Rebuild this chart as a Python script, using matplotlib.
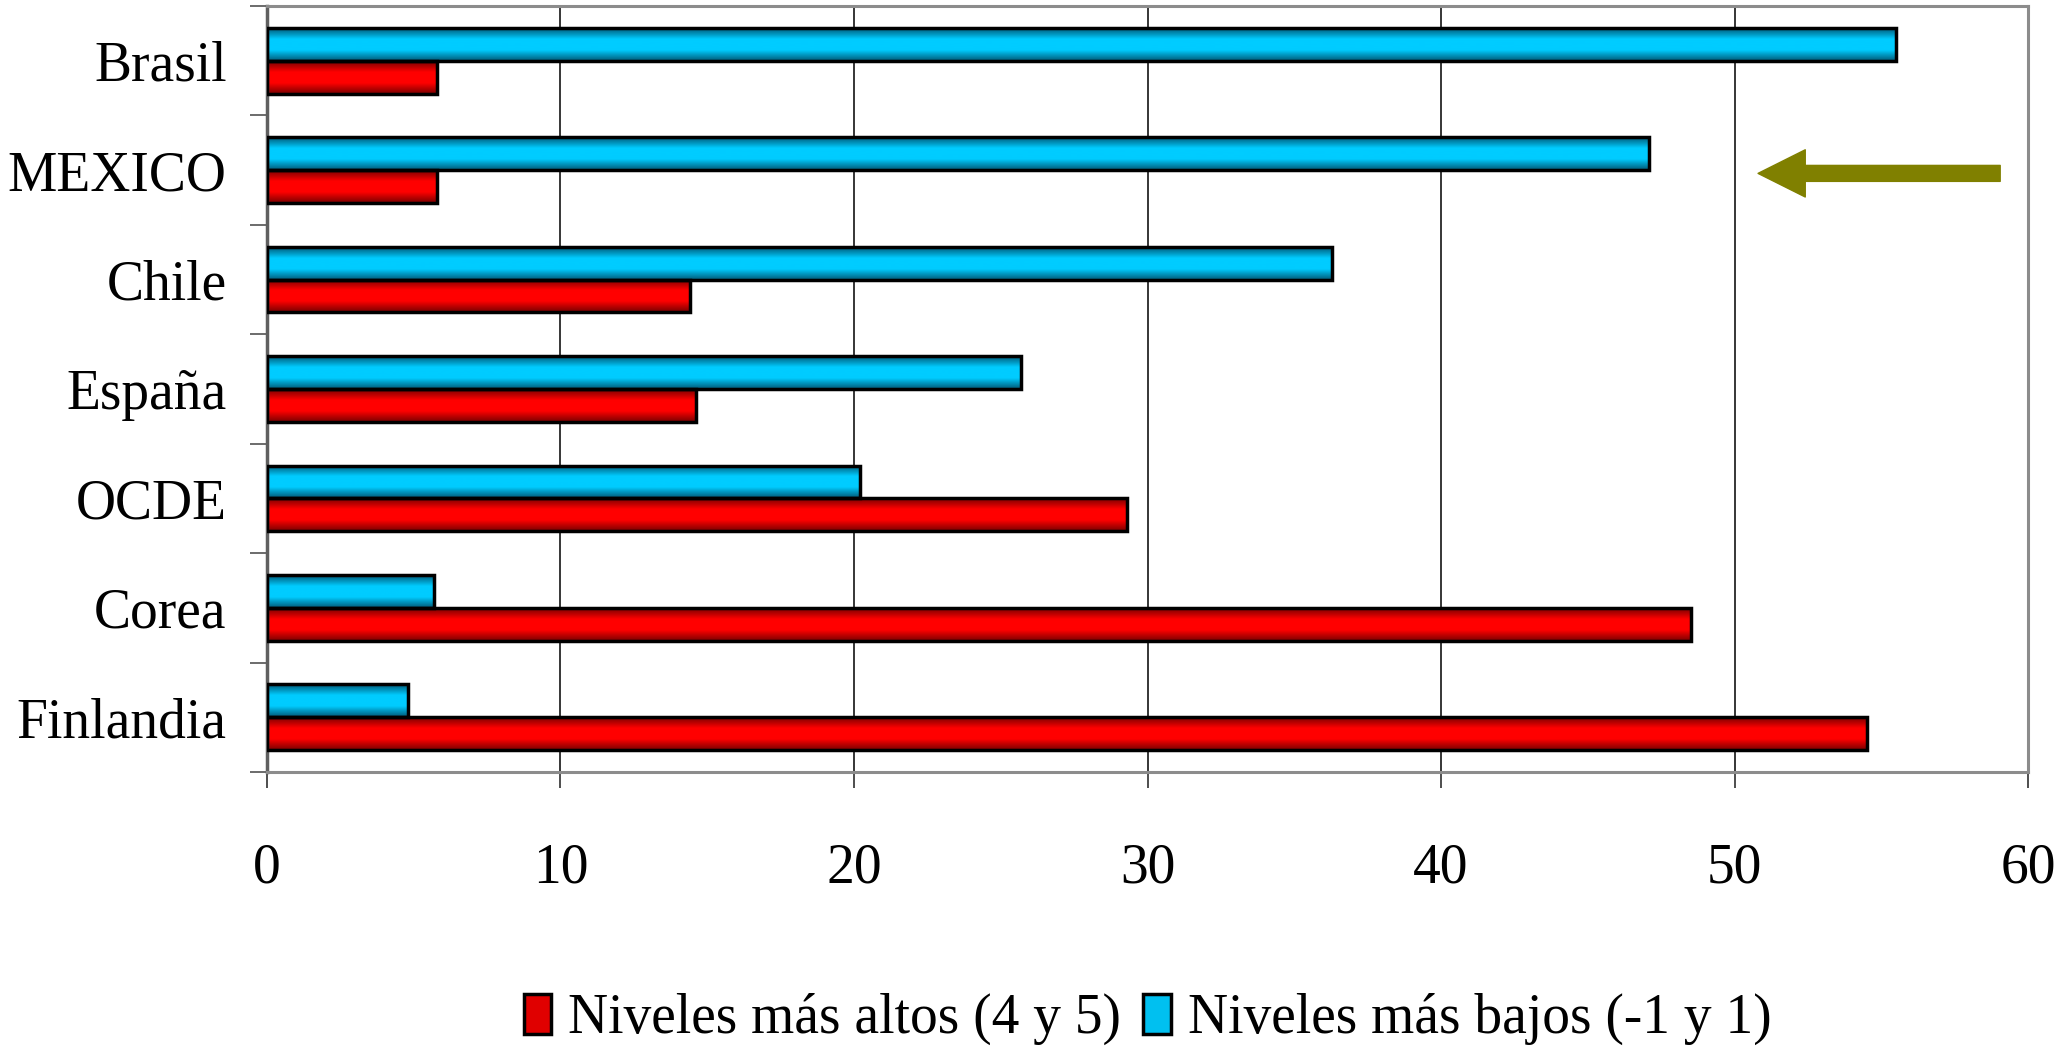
import numpy as np
import matplotlib
matplotlib.use("Agg")
import matplotlib.pyplot as plt
from matplotlib.colors import LinearSegmentedColormap
from matplotlib.patches import Patch

# Data (percent of students)
countries = ["Brasil", "MEXICO", "Chile", "España", "OCDE", "Corea", "Finlandia"]
altos = [5.8, 5.8, 14.4, 14.6, 29.3, 48.5, 54.5]    # Niveles más altos (4 y 5)
bajos = [55.5, 47.1, 36.3, 25.7, 20.2, 5.7, 4.8]    # Niveles más bajos (-1 y 1)
xticks = [0, 10, 20, 30, 40, 50, 60]

plt.rcParams['font.family'] = ['Liberation Serif', 'DejaVu Serif']
fs = 40

fig = plt.figure(figsize=(20.6, 10.47), dpi=100)
ax = fig.add_axes([0.1296, 0.2627, 0.9845 - 0.1296, 0.9943 - 0.2627])

# gradient maps: dark at the bar edges, bright in the middle
red_cmap = LinearSegmentedColormap.from_list("r", ["#7a0000", "#ff0000", "#ff0000", "#7a0000"])
blue_cmap = LinearSegmentedColormap.from_list("b", ["#005a78", "#00ccff", "#00ccff", "#005a78"])
grad = np.linspace(0, 1, 64).reshape(-1, 1)

y = np.arange(len(countries))
h = 0.3


def gradient_bars(bars, cmap):
    for b in bars:
        x0, y0 = b.get_x(), b.get_y()
        w, hh = b.get_width(), b.get_height()
        im = ax.imshow(grad, cmap=cmap, aspect='auto', extent=(x0, x0 + w, y0 + hh, y0),
                       zorder=2, interpolation='bicubic')
        im.set_clip_path(b)


b_blue = ax.barh(y - h / 2, bajos, height=h, facecolor='none', edgecolor='black', linewidth=2.5, zorder=3)
b_red = ax.barh(y + h / 2, altos, height=h, facecolor='none', edgecolor='black', linewidth=2.5, zorder=3)
gradient_bars(b_blue, blue_cmap)
gradient_bars(b_red, red_cmap)

ax.set_xlim(0, 60)
ax.set_ylim(len(countries) - 0.5, -0.5)

# grid
for xv in xticks[1:-1]:
    ax.axvline(xv, color='black', linewidth=1.1, zorder=1)

# spines
for s in ['top', 'right', 'bottom']:
    ax.spines[s].set_color('#8c8c8c')
    ax.spines[s].set_linewidth(2.2)
ax.spines['left'].set_color('#606060')
ax.spines['left'].set_linewidth(2.5)

ax.set_xticks(xticks)
ax.set_xticklabels([str(v) for v in xticks], fontsize=fs)
ax.tick_params(axis='x', direction='out', length=11.5, width=1.3, color='#404040', pad=39)

ax.set_yticks(y)
ax.set_yticklabels(countries, fontsize=fs)
ax.set_yticks(np.arange(len(countries) + 1) - 0.5, minor=True)
ax.tick_params(axis='y', which='major', length=0, pad=29)
ax.tick_params(axis='y', which='minor', direction='out', length=12, width=1.3, color='#606060')

# arrow pointing at MEXICO
ax.annotate('', xy=(50.8, 1.03), xytext=(59.05, 1.03),
            arrowprops=dict(arrowstyle='simple,head_length=3.4,head_width=3.4,tail_width=1.15',
                            color='#808000', shrinkA=0, shrinkB=0), zorder=4)

handles = [Patch(facecolor='#e00000', edgecolor='black', linewidth=2.5),
           Patch(facecolor='#00c0f0', edgecolor='black', linewidth=2.5)]
ax.legend(handles, ["Niveles más altos (4 y 5)", "Niveles más bajos (-1 y 1)"],
          loc='center', bbox_to_anchor=(0.5, -0.323), ncol=2, frameon=False, fontsize=fs,
          handlelength=0.5, handleheight=0.75, handletextpad=0.3, columnspacing=0.4)

fig.savefig("out.png", dpi=100)
